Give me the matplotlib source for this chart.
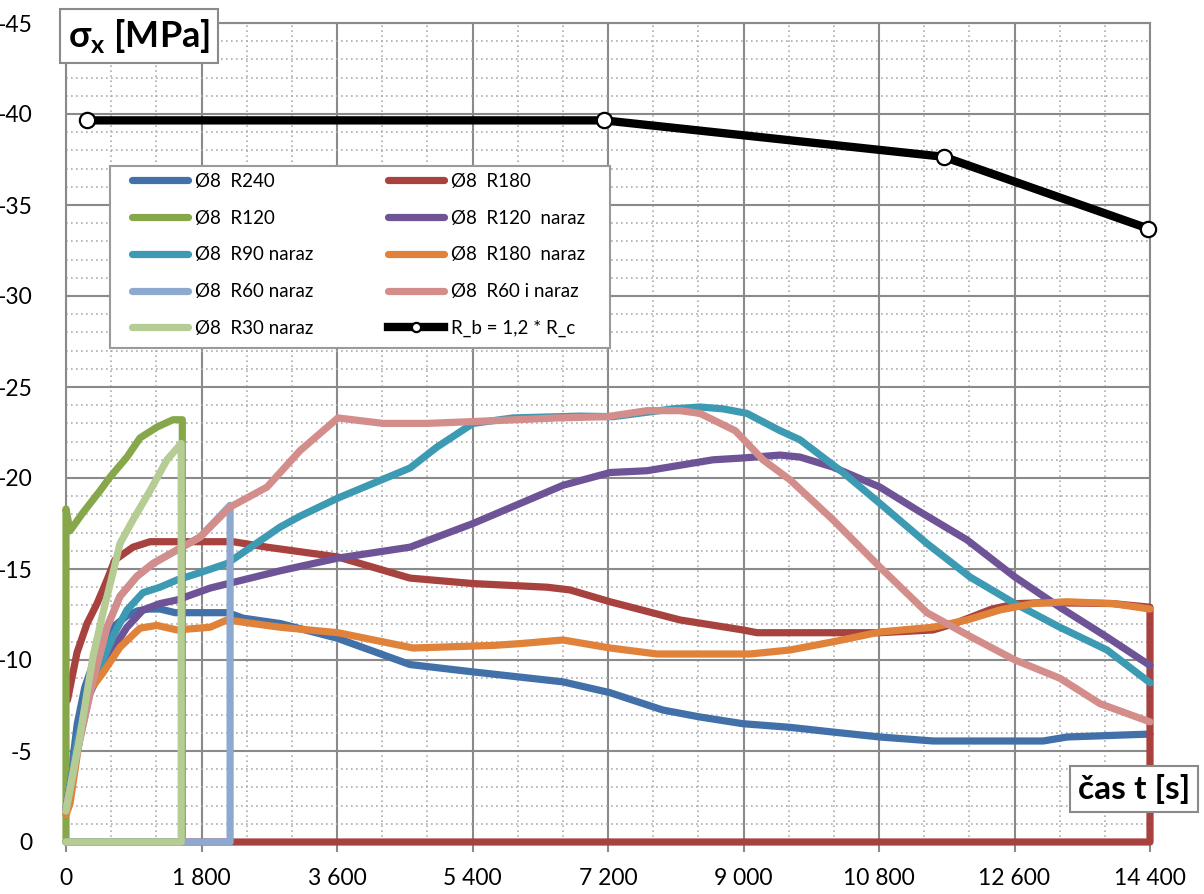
import matplotlib
matplotlib.use('Agg')
import matplotlib.pyplot as plt
from matplotlib.patches import Rectangle
from matplotlib.ticker import MultipleLocator

plt.rcParams['font.family'] = ['Lato', 'DejaVu Sans']

# --- data ---
xticks = [0, 1800, 3600, 5400, 7200, 9000, 10800, 12600, 14400]
xtick_labels = ["0", "1 800", "3 600", "5 400", "7 200", "9 000", "10 800", "12 600", "14 400"]
yticks = [0, -5, -10, -15, -20, -25, -30, -35, -40, -45]

t_r240 = [0, 60, 150, 250, 360, 500, 650, 800, 950, 1100, 1250, 1450, 1800, 2150, 2350, 2850,
          3600, 4570, 5400, 6600, 7230, 7930, 8420, 8990, 9620, 10190, 10810, 11520, 12980, 13300, 14400]
s_r240 = [-1.8, -3.5, -6.5, -8.5, -9.8, -11.0, -11.9, -12.4, -12.7, -12.8, -12.8, -12.6, -12.6, -12.6, -12.3, -12.0,
          -11.2, -9.75, -9.35, -8.8, -8.2, -7.25, -6.87, -6.5, -6.3, -6.04, -5.77, -5.55, -5.55, -5.77, -5.93]

t_r180 = [20, 146, 279, 412, 545, 650, 890, 1116, 1421, 1780, 2218, 2670, 3108, 3613, 4570, 5407, 6390,
          6695, 7227, 8157, 8993, 9179, 10813, 11517, 11800, 12300, 12633, 13000, 13900, 14400, 14400, 0]
s_r180 = [-7.8, -10.4, -12.0, -13.1, -14.4, -15.5, -16.2, -16.5, -16.5, -16.5, -16.5, -16.2, -15.95, -15.66, -14.5, -14.2, -14.0,
          -13.85, -13.2, -12.2, -11.65, -11.5, -11.5, -11.65, -12.0, -12.8, -13.1, -13.15, -13.1, -12.9, 0, 0]

t_r120 = [0, 0, 53, 226, 452, 585, 810, 983, 1209, 1421, 1545, 1545, 0]
s_r120 = [0, -18.3, -17.1, -18.1, -19.3, -20.05, -21.15, -22.2, -22.8, -23.2, -23.2, 0, 0]

t_r120n = [0, 150, 300, 500, 624, 810, 1023, 1249, 1475, 1913, 2351, 2843, 3613, 4570, 5407, 6602, 7227,
           7718, 8595, 8993, 9485, 9750, 10189, 10813, 11305, 11969, 12606, 13202, 13829, 14400]
s_r120n = [-1.8, -5.5, -8.0, -9.8, -10.6, -11.8, -12.75, -13.1, -13.3, -13.95, -14.4, -14.9, -15.6, -16.2, -17.5, -19.6, -20.3,
           -20.4, -21.0, -21.1, -21.26, -21.15, -20.6, -19.5, -18.24, -16.6, -14.56, -12.9, -11.26, -9.7]

t_r90n = [0, 150, 300, 492, 624, 810, 1023, 1249, 1475, 1780, 2139, 2843, 3108, 3613, 4570, 4928, 5407,
          5938, 6828, 7266, 8064, 8422, 8728, 9046, 9485, 9750, 10322, 10813, 11437, 12009, 12606, 13202, 13829, 14400]
s_r90n = [-1.8, -5.5, -8.2, -10.0, -11.3, -12.75, -13.7, -14.0, -14.4, -14.8, -15.3, -17.3, -17.9, -18.9, -20.55, -21.7, -23.0,
          -23.3, -23.4, -23.37, -23.8, -23.9, -23.8, -23.55, -22.6, -22.1, -20.3, -18.6, -16.4, -14.56, -13.1, -11.8, -10.55, -8.75]

t_r180n = [0, 53, 186, 319, 492, 717, 983, 1209, 1475, 1913, 2139, 2843, 3613, 4610, 5672, 6031, 6602,
           7227, 7851, 9086, 9618, 10189, 10813, 11517, 11969, 12407, 12846, 13297, 13908, 14400]
s_r180n = [-1.5, -2.1, -5.8, -8.35, -9.3, -10.7, -11.75, -11.9, -11.65, -11.8, -12.2, -11.8, -11.5, -10.66, -10.8, -10.9, -11.1,
           -10.66, -10.33, -10.33, -10.55, -11.0, -11.54, -11.8, -12.2, -12.75, -13.1, -13.2, -13.1, -12.8]

t_r60n = [0, 150, 359, 545, 717, 943, 1156, 1541, 1780, 2180, 2180, 0]
s_r60n = [-1.8, -5.0, -8.9, -11.8, -13.5, -14.6, -15.3, -16.2, -16.75, -18.5, 0, 0]

t_r60in = [0, 150, 359, 545, 717, 943, 1156, 1541, 1780, 2179, 2670, 3108, 3613, 4211, 4796, 5407, 6523,
           7187, 7718, 8157, 8422, 8890, 9259, 9618, 10189, 10813, 11437, 12009, 12606, 13202, 13736, 14400]
s_r60in = [-1.8, -5.0, -8.9, -11.8, -13.5, -14.6, -15.3, -16.2, -16.75, -18.4, -19.5, -21.5, -23.3, -23.0, -23.0, -23.1, -23.3,
           -23.37, -23.7, -23.7, -23.55, -22.6, -21.0, -19.9, -17.7, -15.1, -12.6, -11.3, -10.0, -9.0, -7.6, -6.6]

t_r30n = [0, 186, 279, 359, 492, 624, 717, 890, 1116, 1342, 1530, 1530, 0]
s_r30n = [-1.7, -5.8, -8.2, -10.2, -12.6, -14.8, -16.4, -17.7, -19.3, -21.0, -21.9, 0, 0]

t_rb = [280, 7150, 11660, 14380]
s_rb = [-39.65, -39.65, -37.65, -33.7]

series = [
    ("Ø8  R240", t_r240, s_r240, '#4270A8'),
    ("Ø8  R180", t_r180, s_r180, '#A8423F'),
    ("Ø8  R120", t_r120, s_r120, '#86A84A'),
    ("Ø8  R120  naraz", t_r120n, s_r120n, '#6E5496'),
    ("Ø8  R90 naraz", t_r90n, s_r90n, '#3C9AB2'),
    ("Ø8  R180  naraz", t_r180n, s_r180n, '#E0823A'),
    ("Ø8  R60 naraz", t_r60n, s_r60n, '#8EA9D0'),
    ("Ø8  R60 i naraz", t_r60in, s_r60in, '#D38D8B'),
    ("Ø8  R30 naraz", t_r30n, s_r30n, '#B5CD94'),
]

fig = plt.figure(figsize=(12.04, 8.94), dpi=100)
ax = fig.add_axes([66/1204, 52/894, 1084/1204, 819/894])

handles = []
for lab, t, s, c in series:
    h, = ax.plot(t, s, color=c, lw=5.2, label=lab, solid_capstyle='round',
                 solid_joinstyle='round', clip_on=False, zorder=3)
    handles.append(h)
h, = ax.plot(t_rb, s_rb, color='black', lw=6.0, marker='o', ms=11, mfc='white',
             mec='black', mew=1.6, label="R_b = 1,2 * R_c", clip_on=False, zorder=4)
handles.append(h)

ax.set_xlim(0, 14400)
ax.set_ylim(0, -45)
ax.set_xticks(xticks)
ax.set_xticklabels(xtick_labels)
ax.set_yticks(yticks)
ax.set_yticklabels([str(v) for v in yticks])
ax.xaxis.set_minor_locator(MultipleLocator(600))
ax.yaxis.set_minor_locator(MultipleLocator(1))

ax.grid(which='major', color='#8a8a8a', lw=1.5, zorder=1)
ax.grid(which='minor', color='#adadad', lw=1.2, linestyle=(0, (1, 2)), zorder=0)
ax.set_axisbelow(True)
for sp in ax.spines.values():
    sp.set_color('#8a8a8a')
    sp.set_linewidth(1.5)

ax.tick_params(axis='x', which='major', length=7, width=1.5, color='#8a8a8a',
               pad=12, labelsize=16.5)
ax.tick_params(axis='y', which='major', length=0, pad=24, labelsize=16.5)
ax.tick_params(which='minor', length=0)

# legend (row-wise order like Excel) with its own frame
order = [0, 2, 4, 6, 8, 1, 3, 5, 7, 9]
ax.add_patch(Rectangle((110/1204, 1 - 348/894), 500/1204, 182/894,
                       transform=fig.transFigure, fc='white', ec='#9a9a9a',
                       lw=1.5, zorder=5, clip_on=False))
leg = ax.legend([handles[i] for i in order], [handles[i].get_label() for i in order],
                loc='upper left', bbox_to_anchor=(132/1204, 1 - 173/894),
                bbox_transform=fig.transFigure, ncol=2, frameon=False,
                fontsize=13.5, handlelength=3.0, handletextpad=0.35,
                columnspacing=4.0, labelspacing=1.05, borderpad=0,
                borderaxespad=0, markerscale=0.6)
leg.set_zorder(6)

# axis titles in boxes
fig.text(139/1204, 1 - 36/894, "σ$_\\mathregular{x}$ [MPa]", fontsize=26,
         fontweight='bold', ha='center', va='center',
         bbox=dict(boxstyle='square,pad=0.22', fc='white', ec='#8a8a8a', lw=1.5))
fig.text(1134/1204, 1 - 789/894, "čas t [s]", fontsize=24, fontweight='bold',
         ha='center', va='center',
         bbox=dict(boxstyle='square,pad=0.25', fc='white', ec='#8a8a8a', lw=1.5))

fig.savefig('out.png', dpi=100)
